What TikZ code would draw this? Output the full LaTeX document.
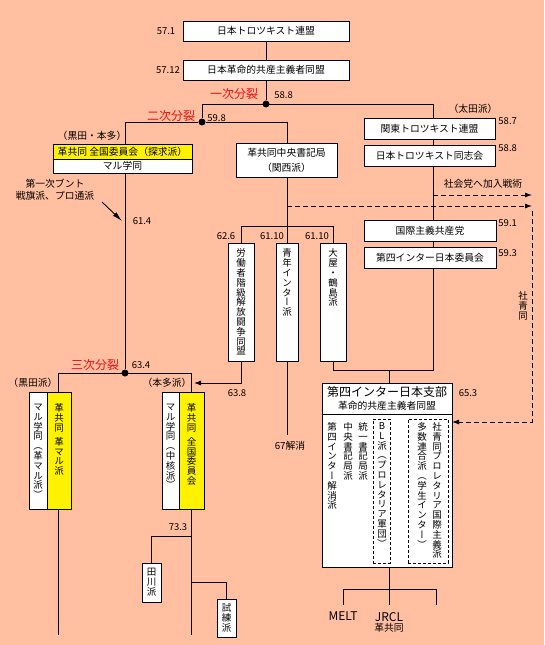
\documentclass[tikz,border=0pt]{standalone}
\usepackage{fontspec}
\setmainfont{Noto Sans CJK JP}
\newfontfamily\vjp{Noto Sans CJK JP}[RawFeature={+vert}]
\usetikzlibrary{arrows.meta,positioning}
\definecolor{bgpeach}{RGB}{255,191,160}
\definecolor{splitred}{RGB}{232,16,16}

% stacked (vertical) Japanese text, | gives a small gap
\def\vtend{}
\newcommand\vt[1]{\vbox{\baselineskip=9.8pt\lineskiplimit=-20pt\lineskip=0pt\vtloop#1\vtend}}
\def\vtloop#1{\ifx#1\vtend\else\ifx#1|\vskip4pt\relax\else\hbox to 10pt{\hss#1\hss}\fi\expandafter\vtloop\fi}

\begin{document}
\begin{tikzpicture}[x=1pt,y=-1pt,line width=0.9pt,
  org/.style={draw,fill=white,inner sep=0pt,align=center,font=\fontsize{9.8}{11.5}\selectfont},
  kcol/.style={org,fill=yellow},
  tallorg/.style={org,font=\vjp\fontsize{9.5}{9.8}\selectfont},
  vlab/.style={inner sep=0pt,font=\vjp\fontsize{9.5}{9.8}\selectfont},
  note/.style={inner sep=0pt,align=center,font=\fontsize{9.8}{12}\selectfont},
  num/.style={inner sep=0pt,font=\fontsize{9.5}{10}\selectfont},
  split/.style={inner sep=0pt,text=splitred,font=\fontsize{12}{12}\selectfont},
  dot/.style={circle,fill,inner sep=0pt,minimum size=7pt},
  sub/.style={draw,dash pattern=on 3pt off 2pt,inner sep=0pt},
  flow/.style={dash pattern=on 5pt off 3pt},
  tip/.style={-{Latex[length=7pt,width=5pt]}}]

  \fill[bgpeach] (0,0) rectangle (544,645);
  \useasboundingbox (0,0) rectangle (544,645);

  % top line
  \node[org,minimum width=166,minimum height=20] (trot) at (266,31) {日本トロツキスト連盟};
  \node[org,minimum width=166,minimum height=20] (jrcl) at (266,70) {日本革命的共産主義者同盟};
  \node[num] (l571) at (166,31) {57.1};
  \node[num] (l5712) at (168,70) {57.12};

  \node[dot] (s1) at (266,104) {};
  \node[dot] (s2) at (202,122) {};
  \node[dot] (s3) at (125,373) {};
  \node[split] (sp1) at (234,94) {一次分裂};
  \node[split] (sp2) at (171,116) {二次分裂};
  \node[split] (sp3) at (95,365) {三次分裂};
  \node[num,anchor=west] (l588) at (274,95) {58.8};
  \node[num,anchor=west] (l598) at (207,118) {59.8};

  % right column
  \node[note] (ohtaL) at (473,109) {（太田派）};
  \node[org,minimum width=131,minimum height=21] (kanto) at (429.5,128.5) {関東トロツキスト連盟};
  \node[org,minimum width=131,minimum height=21] (doshi) at (429.5,155.5) {日本トロツキスト同志会};
  \node[org,minimum width=132,minimum height=21] (kokusai) at (430,230.5) {国際主義共産党};
  \node[org,minimum width=132,minimum height=21] (iinkai) at (430,257.5) {第四インター日本委員会};
  \node[num,anchor=west] (l587) at (498,121) {58.7};
  \node[num,anchor=west] (l588b) at (498,148) {58.8};
  \node[num,anchor=west] (l591) at (498,223) {59.1};
  \node[num,anchor=west] (l593) at (498,253) {59.3};
  \node[note] (shakai) at (483,184) {社会党へ加入戦術};
  \node[vlab] (syd) at (523,306) {\vt{社青同}};

  % left column
  \node[note] (kuhoL) at (92,136) {（黒田・本多）};
  \node[kcol,minimum width=139,minimum height=15] (tankyu) at (122.5,151.5) {革共同\ 全国委員会（探求派）};
  \node[org,minimum width=139,minimum height=14] (maru) at (122.5,166) {マル学同};
  \node[note,font=\fontsize{9.8}{12}\selectfont] (bunto) at (55,190) {第一次ブント\\戦旗派、プロ通派};
  \node[num] (l614) at (142,221) {61.4};

  % kansai
  \node[org,minimum width=101,minimum height=34,font=\fontsize{9.8}{15}\selectfont] (kansai) at (286.5,160) {革共同中央書記局\\（関西派）};
  \node[org,minimum width=26,minimum height=118] (rodo) at (241,302) {};
  \node[org,minimum width=22,minimum height=118] (seinen) at (287,302) {};
  \node[org,minimum width=26,minimum height=118] (oya) at (333,302) {};
  \node[vlab,below=6pt of rodo.north] (rodoT) {\vt{労働者階級解放闘争同盟}};
  \node[vlab,below=6pt of seinen.north] (seinenT) {\vt{青年インター派}};
  \node[vlab,below=6pt of oya.north] (oyaT) {\vt{大屋・鶴島派}};
  \node[num] (l626) at (226,236) {62.6};
  \node[num] (l6110) at (272,236) {61.10};
  \node[num] (l6110b) at (317,236) {61.10};
  \node[num] (l638) at (237,393) {63.8};
  \node[note] (l67) at (290,446) {67解消};

  % third split
  \node[note] (kuroL) at (33,383) {（黒田派）};
  \node[note] (hondaL) at (167,383) {（本多派）};
  \node[num] (l634) at (141,365) {63.4};
  \node[org,minimum width=18,minimum height=117] (kmw) at (38,450.5) {};
  \node[kcol,minimum width=24,minimum height=117] (kmy) at (59,450.5) {};
  \node[org,minimum width=17,minimum height=117] (chw) at (170.5,450.5) {};
  \node[kcol,minimum width=25,minimum height=117] (zky) at (191.5,450.5) {};
  \node[vlab,below=12pt of kmw.north] (kmwT) {\vt{マル学同（革マル派）}};
  \node[vlab,below=12pt of kmy.north] (kmyT) {\vt{革共同|革マル派}};
  \node[vlab,below=12pt of chw.north] (chwT) {\vt{マル学同（中核派）}};
  \node[vlab,below=12pt of zky.north] (zkyT) {\vt{革共同|全国委員会}};
  \node[num] (l733) at (178,527) {73.3};
  \node[tallorg,minimum width=19,minimum height=39] (tagawa) at (151.5,582.5) {\vt{田川派}};
  \node[tallorg,minimum width=19,minimum height=38] (shiren) at (226.5,618) {\vt{試練派}};

  % fourth international
  \node[org,minimum width=130,minimum height=184] (shibu) at (387,475) {};
  \node[inner sep=0pt,font=\fontsize{12}{12}\selectfont] (shibuT) at (387,392) {第四インター日本支部};
  \node[inner sep=0pt,font=\fontsize{9.8}{10}\selectfont] (shibuS) at (387,406) {革命的共産主義者同盟};
  \node[num] (l653) at (468,393) {65.3};
  \node[sub,minimum width=17,minimum height=144] (bl) at (381.5,491) {};
  \node[sub,minimum width=40,minimum height=144] (tasu) at (428,491) {};
  \node[vlab,anchor=north] (c1) at (332,422) {\vt{第四インター解消派}};
  \node[vlab,anchor=north] (c2) at (348,422) {\vt{中央書記局派}};
  \node[vlab,anchor=north] (c3) at (363,422) {\vt{統一書記局派}};
  \node[vlab,anchor=north] (c4) at (382,422) {\vt{BL派（プロレタリア軍団）}};
  \node[vlab,anchor=north] (c5) at (422,422) {\vt{多数連合派（学生インター）}};
  \node[vlab,anchor=north] (c6) at (437,422) {\vt{社青同プロレタリア国際主義派}};
  \node[inner sep=0pt,font=\fontsize{12}{12}\selectfont] (melt) at (343,616) {MELT};
  \node[inner sep=0pt,font=\fontsize{12}{12}\selectfont] (jrclE) at (389,617) {JRCL};
  \node[inner sep=0pt,font=\fontsize{9.8}{10}\selectfont] (jrclJ) at (389,628) {革共同};

  % junctions
  \coordinate (ohta) at (433,104);
  \coordinate (kuroJ) at (125,122);
  \coordinate (kanJ) at (287,122);
  \coordinate (youth) at (287,226);
  \coordinate (joinR) at (389,370);
  \coordinate (east1) at (532,195);
  \coordinate (east2) at (532,206);
  \coordinate (sydown) at (532,211);
  \coordinate (ent) at (452,422);
  \coordinate (hondaIn) at (194,383);
  \coordinate (end67) at (287,435);
  \coordinate (bnt0) at (102,202);
  \coordinate (bnt1) at (122,221);
  \coordinate (kuroR) at (58,373);
  \coordinate (hondR) at (191,373);
  \coordinate (kuroEnd) at (58,635);
  \coordinate (hondEnd) at (191,635);
  \coordinate (t73) at (191,536);
  \coordinate (t74) at (191,582);
  \coordinate (hdr) at (387,414);
  \coordinate (fork) at (389,589);
  \coordinate (meltE) at (343,605);
  \coordinate (jrE) at (389,605);
  \coordinate (rgtE) at (436,605);

  % connectors
  \draw (trot) -- (jrcl);
  \draw (jrcl) -- (s1);
  \draw (s2) -- (s2 |- s1) -- (ohta) -- (ohta |- kanto.north);
  \draw (ohta |- kanto.south) -- (ohta |- doshi.north);
  \draw (ohta |- doshi.south) -- (ohta |- kokusai.north);
  \draw (ohta |- kokusai.south) -- (ohta |- iinkai.north);
  \draw (ohta |- iinkai.south) -- (ohta |- joinR) -- (oya.south |- joinR) -- (oya.south);
  \draw (joinR) -- (joinR |- shibu.north);
  \draw (s2) -- (kuroJ) -- (kuroJ |- tankyu.north);
  \draw (s2) -- (kanJ) -- (kanJ |- kansai.north);
  \draw (kuroJ |- maru.south) -- (s3);
  \draw (youth |- kansai.south) -- (seinen.north);
  \draw (rodo.north) -- (rodo.north |- youth) -- (oya.north |- youth) -- (oya.north);
  \draw[flow,tip] (ohta |- east1) -- (east1);
  \draw[flow,tip] (youth |- east2) -- (east2);
  \draw[flow,tip] (sydown) -- (sydown |- ent) -- (ent);
  \draw[tip] (rodo.south) -- (rodo.south |- hondaIn) -- (hondaIn);
  \draw (seinen.south) -- (end67);
  \draw[-{Latex[length=10pt,width=5pt]}] (bnt0) -- (bnt1);
  \draw (kuroR) -- (hondR);
  \draw (kuroR) -- (kuroR |- kmy.north);
  \draw (hondR) -- (hondR |- zky.north);
  \draw (kuroR |- kmy.south) -- (kuroEnd);
  \draw (hondR |- zky.south) -- (hondEnd);
  \draw (t73) -- (t73 -| tagawa) -- (tagawa.north);
  \draw (t74) -- (t74 -| shiren) -- (shiren.north);
  \draw (hdr -| shibu.west) -- (hdr -| shibu.east);
  \draw (fork |- shibu.south) -- (jrE);
  \draw (meltE) -- (meltE |- fork) -- (fork -| rgtE) -- (rgtE);
\end{tikzpicture}
\end{document}
